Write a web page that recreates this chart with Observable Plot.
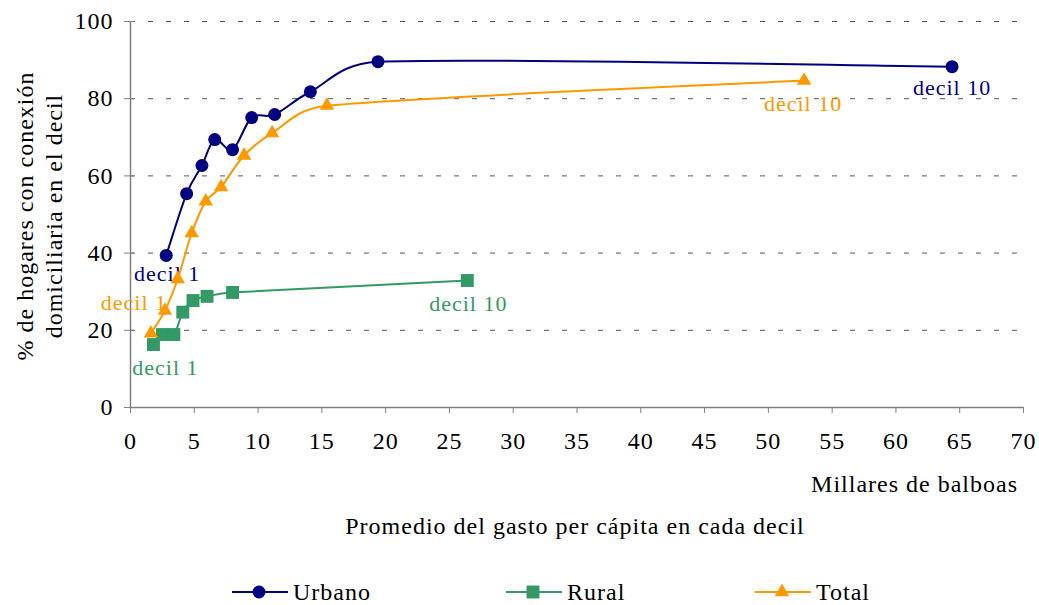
<!DOCTYPE html>
<html><head><meta charset="utf-8">
<script src="https://cdn.jsdelivr.net/npm/d3@7"></script>
<script src="https://cdn.jsdelivr.net/npm/@observablehq/plot@0.6"></script>
<style>
body{margin:0;background:#fff;}
#wrap{position:relative;width:1039px;height:605px;font-family:"Liberation Serif","Times New Roman",serif;color:#000;overflow:hidden;}
.t{position:absolute;font-size:24px;letter-spacing:1px;line-height:1;white-space:nowrap;}
</style></head><body><div id="wrap"></div>
<script>
// ---- data ----
const seriesNames = ["Urbano", "Rural", "Total"];
const urbanoX = [2.8, 4.4, 5.6, 6.6, 8.0, 9.5, 11.3, 14.1, 19.4, 64.4];
const urbanoY = [39.4, 55.4, 62.7, 69.4, 66.8, 75.1, 75.9, 81.8, 89.6, 88.3];
const ruralX = [1.8, 2.5, 3.4, 4.1, 4.9, 6.0, 8.0, 26.4];
const ruralY = [16.3, 18.9, 18.9, 24.7, 27.7, 28.8, 29.8, 32.9];
const totalX = [1.6, 2.7, 3.7, 4.8, 5.9, 7.1, 8.9, 11.1, 15.4, 52.8];
const totalY = [19.2, 25.1, 33.3, 45.2, 53.4, 57.1, 65.3, 71.1, 78.2, 84.7];
const xTicks = [0, 5, 10, 15, 20, 25, 30, 35, 40, 45, 50, 55, 60, 65, 70];
const yTicks = [0, 20, 40, 60, 80, 100];
const firstLabel = "decil 1";
const lastLabel = "decil 10";
const xTitle = "Millares de balboas";
const xSubTitle = "Promedio del gasto per cápita en cada decil";
const yTitle = ["% de hogares con conexión", "domiciliaria en el decil"];

// ---- styling ----
const colors = {Urbano: "#000080", Rural: "#339966", Total: "#FF9900"};
const symbols = {Urbano: "circle", Rural: "square", Total: "triangle"};
const radii = {Urbano: 6.5, Rural: 7.3, Total: 5.4};
const fontFamily = '"Liberation Serif","Times New Roman",serif';
const W = 1039, H = 450, ML = 130, MR = 16, MT = 21, MB = 43;

// Spreadsheet-style smoothed line: Catmull-Rom Bezier (1/6 arms) with arms clamped on short segments
function SmoothCurve(context) { this._context = context; }
SmoothCurve.prototype = {
  areaStart() {}, areaEnd() {},
  lineStart() { this._pts = []; },
  point(x, y) { this._pts.push([+x, +y]); },
  lineEnd() {
    const p = this._pts, n = p.length, ctx = this._context;
    if (!n) return;
    ctx.moveTo(p[0][0], p[0][1]);
    for (let i = 0; i < n - 1; i++) {
      const p0 = p[Math.max(i - 1, 0)], p1 = p[i], p2 = p[i + 1], p3 = p[Math.min(i + 2, n - 1)];
      const seg = Math.hypot(p2[0] - p1[0], p2[1] - p1[1]);
      const clamp = v => {
        const l = Math.hypot(v[0], v[1]), m = 0.5 * seg;
        return l > m && l > 0 ? [v[0] * m / l, v[1] * m / l] : v;
      };
      const a = clamp([(p2[0] - p0[0]) / 6, (p2[1] - p0[1]) / 6]);
      const b = clamp([(p3[0] - p1[0]) / 6, (p3[1] - p1[1]) / 6]);
      ctx.bezierCurveTo(p1[0] + a[0], p1[1] + a[1], p2[0] - b[0], p2[1] - b[1], p2[0], p2[1]);
    }
  }
};
const smooth = context => new SmoothCurve(context);

const toRows = (xs, ys) => xs.map((x, i) => ({x, y: ys[i]}));
const data = {
  Urbano: toRows(urbanoX, urbanoY),
  Rural: toRows(ruralX, ruralY),
  Total: toRows(totalX, totalY)
};
// label offsets (px) relative to the first/last point of each series
const labelOffsets = {
  Urbano: {first: [1, 19], last: [0, 21]},
  Rural: {first: [12, 23], last: [1, 23]},
  Total: {first: [-17, -30], last: [-1, 23]}
};

const seriesMarks = seriesNames.flatMap(name => {
  const rows = data[name];
  const c = colors[name];
  const o = labelOffsets[name];
  return [
    Plot.line(rows, {x: "x", y: "y", curve: smooth, stroke: c, strokeWidth: 2}),
    Plot.dot(rows, {x: "x", y: "y", symbol: symbols[name], r: radii[name], fill: c, stroke: null}),
    Plot.text([rows[0]], {x: "x", y: "y", text: () => firstLabel, fill: c, dx: o.first[0], dy: o.first[1], fontSize: 22, fontFamily}),
    Plot.text([rows[rows.length - 1]], {x: "x", y: "y", text: () => lastLabel, fill: c, dx: o.last[0], dy: o.last[1], fontSize: 22, fontFamily})
  ];
});

const chart = Plot.plot({
  width: W,
  height: H,
  marginTop: MT,
  marginLeft: ML,
  marginRight: MR,
  marginBottom: MB,
  style: {fontFamily, fontSize: "24px", background: "transparent", overflow: "visible", letterSpacing: "1px"},
  x: {domain: [0, 70]},
  y: {domain: [0, 100]},
  marks: [
    Plot.gridY(yTicks, {stroke: "#555", strokeOpacity: 1, strokeDasharray: "5,13"}),
    Plot.axisX(xTicks, {tickSize: 6, tickPadding: 18, label: null, stroke: "#808080", fill: "#000", fontSize: 24}),
    Plot.axisY(yTicks, {tickSize: 6, tickPadding: 11, label: null, stroke: "#808080", fill: "#000", fontSize: 24}),
    // inner half of the crossing y ticks
    Plot.ruleY(yTicks, {stroke: "#808080", insetRight: (W - ML - MR) - 4}),
    Plot.ruleX([0], {stroke: "#808080", strokeWidth: 1.5}),
    Plot.ruleY([0], {stroke: "#808080", strokeWidth: 1.5}),
    ...seriesMarks
  ]
});

const wrap = document.getElementById("wrap");
chart.style.position = "absolute";
chart.style.left = "0px";
chart.style.top = "0px";
wrap.appendChild(chart);

function addText(txt, css) {
  const d = document.createElement("div");
  d.className = "t";
  d.textContent = txt;
  Object.assign(d.style, css);
  wrap.appendChild(d);
  return d;
}
addText(xTitle, {right: "21px", top: "472px"});
addText(xSubTitle, {left: "575px", top: "514px", transform: "translateX(-50%)"});

// y title (two lines, rotated)
const yt = document.createElement("div");
yt.className = "t";
Object.assign(yt.style, {left: "-160px", top: "187px", width: "400px", height: "58px", lineHeight: "29px",
  textAlign: "center", transform: "rotate(-90deg)", transformOrigin: "50% 50%"});
yt.innerHTML = yTitle.map(s => `<div>${s}</div>`).join("");
wrap.appendChild(yt);

// legend
const legendLeft = {Urbano: 232, Rural: 506, Total: 755};
seriesNames.forEach(name => {
  const item = document.createElement("div");
  item.className = "t";
  Object.assign(item.style, {left: legendLeft[name] + "px", top: "580px", height: "24px", display: "flex", alignItems: "center"});
  const sym = {circle: d3.symbolCircle, square: d3.symbolSquare, triangle: d3.symbolTriangle}[symbols[name]];
  const path = d3.symbol(sym, Math.PI * radii[name] * radii[name])();
  item.innerHTML = `<svg width="56" height="20" style="overflow:visible"><line x1="0" x2="56" y1="10" y2="10" stroke="${colors[name]}" stroke-width="2"/><path d="${path}" transform="translate(27,10)" fill="${colors[name]}"/></svg><span style="margin-left:5px">${name}</span>`;
  wrap.appendChild(item);
});
</script>
</body></html>
